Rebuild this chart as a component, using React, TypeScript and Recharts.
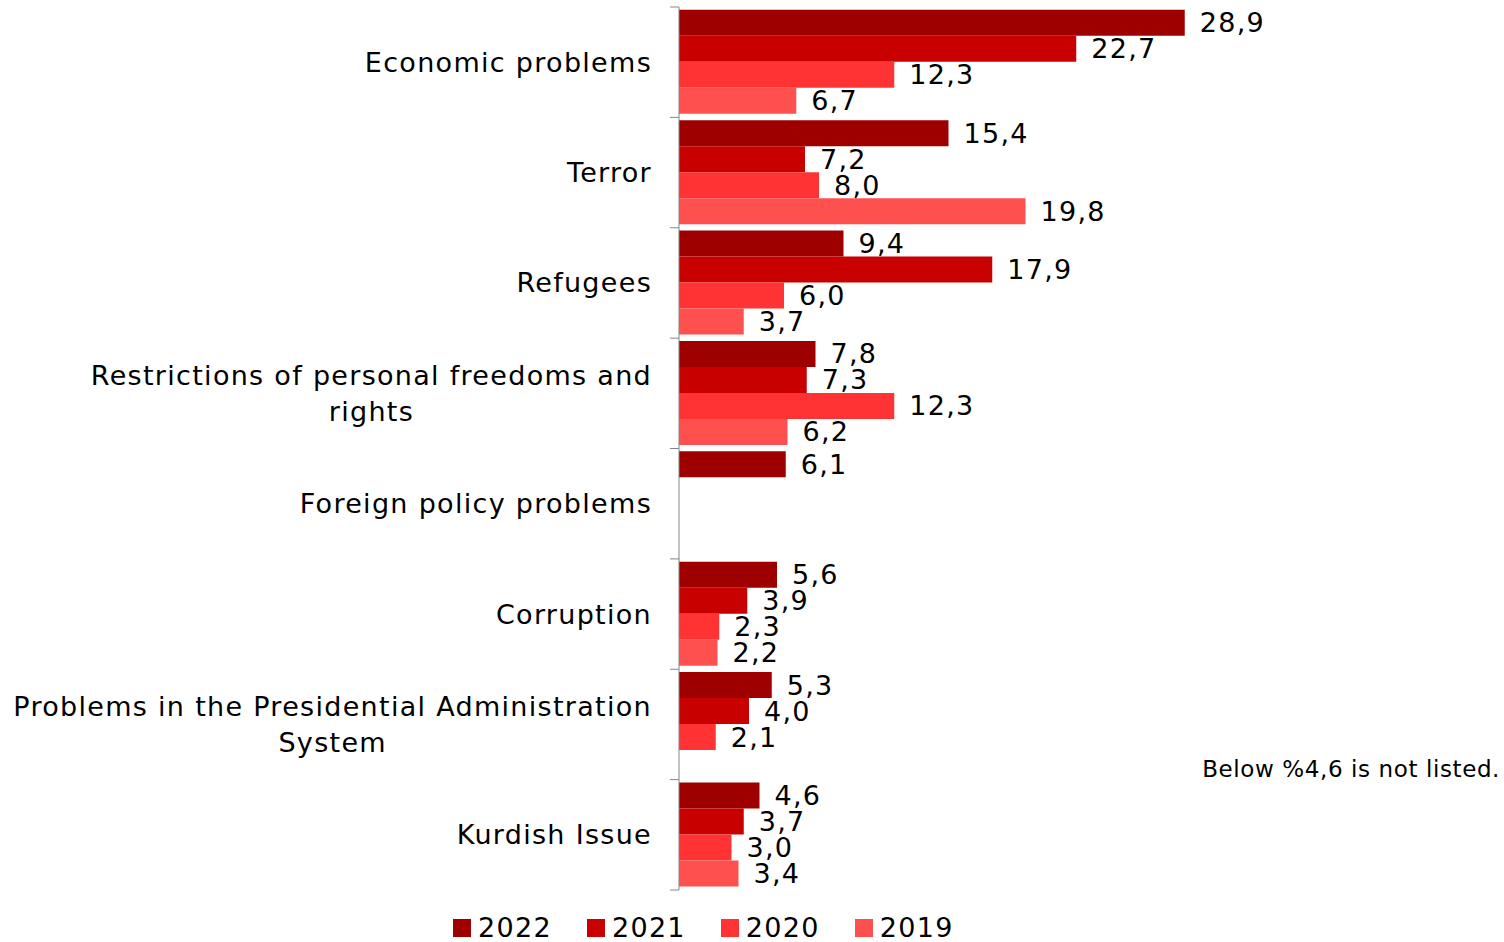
import React from "react";
import { BarChart, Bar, XAxis, YAxis, LabelList } from "recharts";

const categories = [
  "Economic problems",
  "Terror",
  "Refugees",
  "Restrictions of personal freedoms and rights",
  "Foreign policy problems",
  "Corruption",
  "Problems in the Presidential Administration System",
  "Kurdish Issue",
];

const tickLabels = [
  ["Economic problems"],
  ["Terror"],
  ["Refugees"],
  ["Restrictions of personal freedoms and", "rights"],
  ["Foreign policy problems"],
  ["Corruption"],
  ["Problems in the Presidential Administration", "System"],
  ["Kurdish Issue"],
];

const seriesNames = ["2022", "2021", "2020", "2019"];
const seriesColors = ["#9E0000", "#C80000", "#FF3333", "#FF5050"];

const v2022 = [28.9, 15.4, 9.4, 7.8, 6.1, 5.6, 5.3, 4.6];
const v2021 = [22.7, 7.2, 17.9, 7.3, null, 3.9, 4.0, 3.7];
const v2020 = [12.3, 8.0, 6.0, 12.3, null, 2.3, 2.1, 3.0];
const v2019 = [6.7, 19.8, 3.7, 6.2, null, 2.2, null, 3.4];

const seriesValues = [v2022, v2021, v2020, v2019];

const noteText = "Below %4,6 is not listed.";

const data = categories.map((c, i) => {
  const row: Record<string, any> = { name: c, idx: i };
  seriesNames.forEach((s, k) => {
    row[s] = seriesValues[k][i];
  });
  return row;
});

const FONT = "'DejaVu Sans', Verdana, sans-serif";
const LS = 1.3;
const W = 1504;
const H = 942;
const MARGIN = { top: 7, right: 125, bottom: 52, left: 0 };
const Y_WIDTH = 679;
const PLOT_H = H - MARGIN.top - MARGIN.bottom;

const fmt = (v: any) =>
  v === null || v === undefined ? "" : Number(v).toFixed(1).replace(".", ",");

const CategoryTick = (props: any) => {
  const { x, y, index } = props;
  const band = PLOT_H / categories.length;
  const lines = tickLabels[index] || [String(props.payload?.value)];
  const lineH = 36;
  const textRight = x - 27;
  let widths: number[] = lines.map(() => 0);
  try {
    const ctx = document.createElement("canvas").getContext("2d");
    if (ctx) {
      ctx.font = "27px 'DejaVu Sans'";
      widths = lines.map((l) => ctx.measureText(l).width + l.length * LS);
    }
  } catch (e) {}
  const maxW = Math.max(...widths);
  const startY = y - ((lines.length - 1) * lineH) / 2;
  return (
    <g>
      <line x1={x - 9} x2={x} y1={y - band / 2} y2={y - band / 2} stroke="#868686" strokeWidth={1} />
      {index === categories.length - 1 && (
        <line x1={x - 9} x2={x} y1={y + band / 2} y2={y + band / 2} stroke="#868686" strokeWidth={1} />
      )}
      {lines.map((l, i) => (
        <text
          key={i}
          x={lines.length > 1 ? textRight - maxW / 2 : textRight}
          y={startY + i * lineH}
          textAnchor={lines.length > 1 ? "middle" : "end"}
          dominantBaseline="central"
          fontFamily={FONT}
          fontSize={27}
          letterSpacing={LS}
          fill="#000"
        >
          {l}
        </text>
      ))}
    </g>
  );
};

export default function App() {
  return (
    <div style={{ position: "absolute", left: 0, top: 0, width: W, height: H, background: "#fff" }}>
      <BarChart
        width={W}
        height={H}
        data={data}
        layout="vertical"
        margin={MARGIN}
        barCategoryGap="2.5%"
        barGap={0}
      >
        <XAxis type="number" domain={[0, 40]} hide />
        <YAxis
          type="category"
          dataKey="name"
          width={Y_WIDTH}
          axisLine={{ stroke: "#868686" }}
          tickLine={false}
          tickSize={0}
          tickMargin={0}
          interval={0}
          tick={<CategoryTick />}
        />
        {seriesNames.map((s, k) => (
          <Bar key={s} dataKey={s} fill={seriesColors[k]} isAnimationActive={false}>
            <LabelList
              dataKey={s}
              position="right"
              offset={15}
              formatter={fmt}
              fill="#000"
              fontSize={27}
              fontFamily={FONT}
              letterSpacing={LS}
            />
          </Bar>
        ))}
      </BarChart>
      <div
        style={{
          position: "absolute",
          left: 453,
          top: 912,
          display: "flex",
          alignItems: "center",
          fontFamily: FONT,
          fontSize: 27,
          letterSpacing: LS,
          color: "#000",
          lineHeight: "32px",
        }}
      >
        {seriesNames.map((s, k) => (
          <div key={s} style={{ display: "flex", alignItems: "center", marginRight: 35 }}>
            <div style={{ width: 18, height: 18, background: seriesColors[k], marginRight: 7 }} />
            <span>{s}</span>
          </div>
        ))}
      </div>
      <div
        style={{
          position: "absolute",
          right: 4,
          top: 755,
          fontFamily: FONT,
          fontSize: 23,
          letterSpacing: 0.6,
          color: "#000",
          lineHeight: "28px",
          whiteSpace: "nowrap",
        }}
      >
        {noteText}
      </div>
    </div>
  );
}
